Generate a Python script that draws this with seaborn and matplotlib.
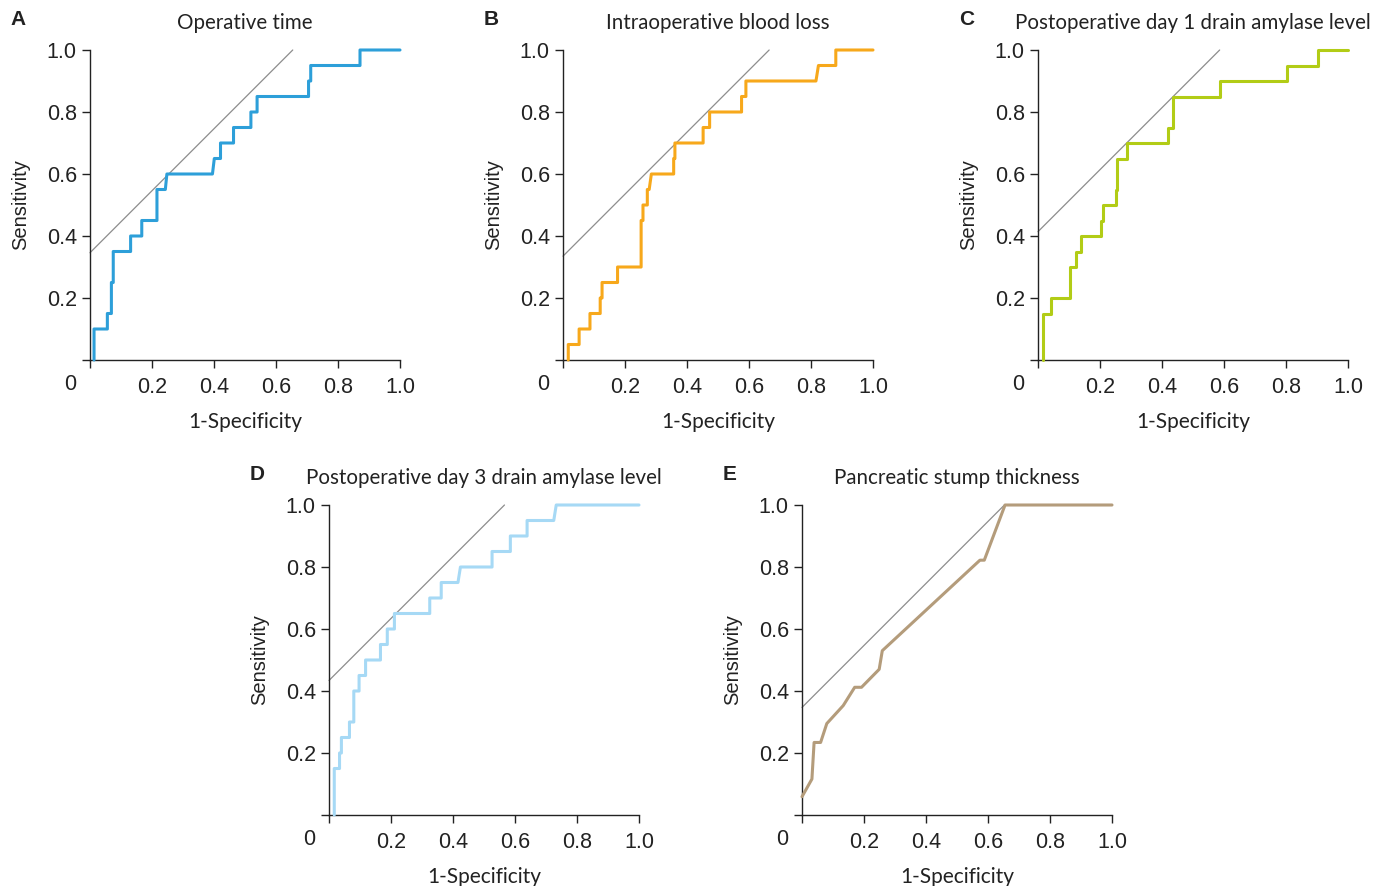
import numpy as np
import pandas as pd
import matplotlib
matplotlib.use('Agg')
import matplotlib.pyplot as plt
import seaborn as sns

sns.set_theme(style='ticks')
plt.rcParams['font.family'] = ['Liberation Sans', 'DejaVu Sans']

#%% Dati

titles = ['Operative time', 'Intraoperative blood loss',
          'Postoperative day 1 drain amylase level',
          'Postoperative day 3 drain amylase level',
          'Pancreatic stump thickness']
letters = ['A', 'B', 'C', 'D', 'E']
colors = ['#2d9fd9', '#f7a81b', '#b2cc16', '#a6d9f5', '#b49c7b']

fpr_a = [0.013, 0.013, 0.056, 0.056, 0.069, 0.069, 0.075, 0.075, 0.131, 0.131, 0.167, 0.167,
         0.216, 0.216, 0.243, 0.248, 0.395, 0.401, 0.421, 0.421, 0.463, 0.463, 0.519, 0.519,
         0.539, 0.539, 0.705, 0.705, 0.712, 0.712, 0.871, 0.871, 1.0]
tpr_a = [0, 0.10, 0.10, 0.15, 0.15, 0.25, 0.25, 0.35, 0.35, 0.40, 0.40, 0.45, 0.45, 0.55,
         0.55, 0.60, 0.60, 0.65, 0.65, 0.70, 0.70, 0.75, 0.75, 0.80, 0.80, 0.85, 0.85, 0.90,
         0.90, 0.95, 0.95, 1.0, 1.0]

fpr_b = [0.017, 0.017, 0.052, 0.052, 0.087, 0.087, 0.120, 0.120, 0.126, 0.126, 0.176, 0.176,
         0.252, 0.252, 0.258, 0.258, 0.272, 0.272, 0.278, 0.285, 0.357, 0.357, 0.361, 0.361,
         0.452, 0.452, 0.473, 0.473, 0.576, 0.576, 0.590, 0.590, 0.816, 0.824, 0.880, 0.880, 1.0]
tpr_b = [0, 0.05, 0.05, 0.10, 0.10, 0.15, 0.15, 0.20, 0.20, 0.25, 0.25, 0.30, 0.30, 0.45,
         0.45, 0.50, 0.50, 0.55, 0.55, 0.60, 0.60, 0.65, 0.65, 0.70, 0.70, 0.75, 0.75, 0.80,
         0.80, 0.85, 0.85, 0.90, 0.90, 0.95, 0.95, 1.0, 1.0]

fpr_c = [0.017, 0.017, 0.041, 0.041, 0.103, 0.103, 0.124, 0.124, 0.140, 0.140, 0.203, 0.203,
         0.209, 0.209, 0.250, 0.250, 0.255, 0.255, 0.288, 0.288, 0.418, 0.418, 0.434, 0.434,
         0.587, 0.587, 0.803, 0.803, 0.902, 0.902, 1.0]
tpr_c = [0, 0.15, 0.15, 0.20, 0.20, 0.30, 0.30, 0.35, 0.35, 0.40, 0.40, 0.45, 0.45, 0.50,
         0.50, 0.55, 0.55, 0.65, 0.65, 0.70, 0.70, 0.75, 0.75, 0.85, 0.85, 0.90, 0.90, 0.95,
         0.95, 1.0, 1.0]

fpr_d = [0.017, 0.017, 0.034, 0.034, 0.040, 0.040, 0.066, 0.066, 0.080, 0.080, 0.097, 0.097,
         0.118, 0.118, 0.166, 0.166, 0.188, 0.188, 0.211, 0.211, 0.325, 0.325, 0.362, 0.362,
         0.416, 0.424, 0.526, 0.526, 0.585, 0.585, 0.639, 0.639, 0.725, 0.733, 1.0]
tpr_d = [0, 0.15, 0.15, 0.20, 0.20, 0.25, 0.25, 0.30, 0.30, 0.40, 0.40, 0.45, 0.45, 0.50,
         0.50, 0.55, 0.55, 0.60, 0.60, 0.65, 0.65, 0.70, 0.70, 0.75, 0.75, 0.80, 0.80, 0.85,
         0.85, 0.90, 0.90, 0.95, 0.95, 1.0, 1.0]

fpr_e = [0.0, 0.032, 0.039, 0.060, 0.080, 0.133, 0.170, 0.192, 0.249, 0.259, 0.574, 0.588, 0.655, 1.0]
tpr_e = [0.059, 0.116, 0.234, 0.234, 0.295, 0.353, 0.412, 0.412, 0.470, 0.530, 0.822, 0.822, 1.0, 1.0]

# intercetta della retta tangente (pendenza 1)
intercepts = [0.346, 0.335, 0.414, 0.434, 0.347]

ticks = [0, 0.2, 0.4, 0.6, 0.8, 1.0]
tick_labels = ['', '0.2', '0.4', '0.6', '0.8', '1.0']

curves = [(fpr_a, tpr_a), (fpr_b, tpr_b), (fpr_c, tpr_c), (fpr_d, tpr_d), (fpr_e, tpr_e)]

#%% Figura

W, H = 1383, 886
fig = plt.figure(figsize=(W / 100, H / 100), dpi=100)

# posizioni in pixel (sinistra, alto)
boxes = [(90, 50), (563, 50), (1038, 50), (329, 505), (802, 505)]
side = 310

title_font = ['Lato', 'DejaVu Sans']
ink = '#222222'

for i, (x0, y0) in enumerate(boxes):
    ax = fig.add_axes([x0 / W, (H - y0 - side) / H, side / W, side / H])
    fpr, tpr = curves[i]
    df = pd.DataFrame({'fpr': fpr, 'tpr': tpr})
    b = intercepts[i]
    ax.plot([0, 1 - b], [b, 1], color='#8c8c8c', lw=0.9, zorder=2)
    sns.lineplot(data=df, x='fpr', y='tpr', sort=False, estimator=None, ax=ax,
                 color=colors[i], lw=2.2, zorder=3)
    for ln in ax.lines:
        ln.set_clip_on(False)

    ax.set_xlim(0, 1)
    ax.set_ylim(0, 1)
    ax.set_xticks(ticks)
    ax.set_yticks(ticks)
    ax.set_xticklabels(tick_labels)
    ax.set_yticklabels(tick_labels)
    ax.tick_params(labelsize=15.5, length=5.5, width=1, pad=4, colors=ink, labelcolor=ink)
    ax.tick_params(axis='x', pad=7)
    sns.despine(ax=ax)
    for s in ['left', 'bottom']:
        ax.spines[s].set_color(ink)
        ax.spines[s].set_linewidth(1)

    ax.text(-0.065, -0.08, '0', transform=ax.transAxes, ha='center', va='center',
            fontsize=15.5, color=ink)
    ax.set_xlabel('1-Specificity', fontsize=15, family=title_font, color=ink, labelpad=10)
    ax.set_ylabel('Sensitivity', fontsize=14.5, color=ink, labelpad=12)
    ax.set_title(titles[i], fontsize=14.8, family=title_font, color=ink, pad=15)
    ax.text(-0.255, 1.097, letters[i], transform=ax.transAxes, ha='left', va='center',
            fontsize=15, fontweight='bold', color=ink)

fig.savefig('out.png', dpi=100)
